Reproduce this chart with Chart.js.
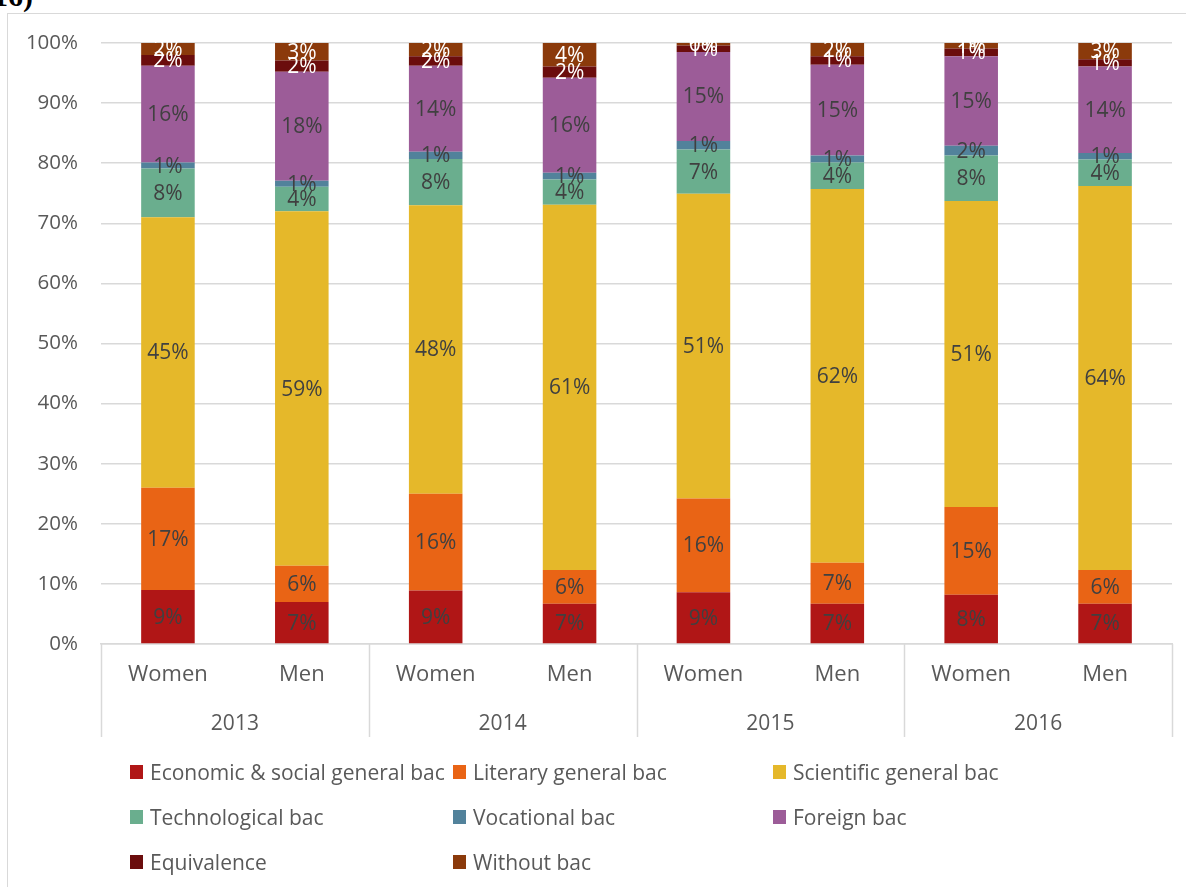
<!DOCTYPE html>
<html>
<head>
<meta charset="utf-8">
<script src="https://cdn.jsdelivr.net/npm/chart.js@4.4.1/dist/chart.umd.min.js"></script>
<style>
  html, body { margin: 0; padding: 0; background: #ffffff; }
  body { width: 1186px; height: 887px; position: relative; overflow: hidden; font-family: "Open Sans", sans-serif; }
  #frame { position: absolute; left: 7px; top: 13px; width: 1300px; height: 1000px; border-left: 1px solid #d9d9d9; border-top: 1px solid #d9d9d9; }
  #title { position: absolute; left: -7px; top: -19px; font-family: "Liberation Serif", serif; font-weight: bold; font-size: 30px; line-height: 30px; color: #000; }
  #chart { position: absolute; left: 0; top: 0; }
  #legend { position: absolute; left: 0; top: 0; }
  .lg { position: absolute; display: flex; align-items: center; font-size: 21px; color: #595959; white-space: nowrap; }
  .lg span.box { display: inline-block; width: 13px; height: 14px; margin-right: 7px; }
</style>
</head>
<body>
<div id="frame"></div>
<div id="title">16)</div>
<canvas id="chart" width="1186" height="887"></canvas>
<div id="legend"></div>
<script>
const categories = ['Women', 'Men', 'Women', 'Men', 'Women', 'Men', 'Women', 'Men'];
const years = ['2013', '2014', '2015', '2016'];
const yTicks = [0, 10, 20, 30, 40, 50, 60, 70, 80, 90, 100];

const econ          = [9.0, 7.0, 8.9, 6.7, 8.6, 6.7, 8.2, 6.7];
const literary      = [17.0, 6.0, 16.1, 5.6, 15.6, 6.8, 14.6, 5.6];
const scientific    = [45.0, 59.0, 48.0, 60.8, 50.7, 62.2, 50.9, 63.9];
const technological = [8.1, 4.1, 7.7, 4.2, 7.4, 4.4, 7.6, 4.4];
const vocational    = [1.0, 1.0, 1.2, 1.1, 1.4, 1.2, 1.6, 1.1];
const foreign       = [16.1, 18.1, 14.3, 15.8, 14.8, 15.1, 14.9, 14.4];
const equivalence   = [1.8, 1.9, 1.6, 1.9, 1.1, 1.4, 1.3, 1.2];
const withoutBac    = [2.0, 2.9, 2.2, 3.9, 0.4, 2.2, 0.9, 2.7];

const seriesNames = ['Economic & social general bac', 'Literary general bac', 'Scientific general bac',
  'Technological bac', 'Vocational bac', 'Foreign bac', 'Equivalence', 'Without bac'];
const seriesValues = [econ, literary, scientific, technological, vocational, foreign, equivalence, withoutBac];
const seriesColors = ['#B01616', '#E96415', '#E5B82A', '#6AAE8E', '#52829B', '#9C5C98', '#6B0D0D', '#8B3A0B'];
const labelColors = ['#404040', '#404040', '#404040', '#404040', '#404040', '#404040', '#ffffff', '#ffffff'];

const datasets = seriesNames.map((name, i) => ({
  label: name,
  data: seriesValues[i],
  backgroundColor: seriesColors[i],
  borderWidth: 0,
  categoryPercentage: 1.0,
  barPercentage: 0.4,
  labelColor: labelColors[i]
}));

const valueLabels = {
  id: 'valueLabels',
  afterDatasetsDraw(chart) {
    const ctx = chart.ctx;
    ctx.save();
    ctx.font = '21px "Open Sans"';
    ctx.textAlign = 'center';
    ctx.textBaseline = 'middle';
    chart.data.datasets.forEach((ds, di) => {
      const meta = chart.getDatasetMeta(di);
      meta.data.forEach((el, j) => {
        const p = el.getProps(['x', 'y', 'base'], true);
        ctx.fillStyle = ds.labelColor;
        ctx.fillText(Math.round(ds.data[j]) + '%', p.x, (p.y + p.base) / 2 + 1);
      });
    });
    ctx.restore();
  }
};

const groupSeparators = {
  id: 'groupSeparators',
  afterDraw(chart) {
    const xs = chart.scales.x;
    const x2 = chart.scales.x2;
    const ctx = chart.ctx;
    const n = categories.length;
    const positions = [xs.left];
    for (let k = 2; k < n; k += 2) {
      positions.push((xs.getPixelForValue(k - 1) + xs.getPixelForValue(k)) / 2);
    }
    positions.push(xs.right);
    ctx.save();
    ctx.strokeStyle = '#d9d9d9';
    ctx.lineWidth = 1.5;
    positions.forEach(px => {
      const x = Math.round(px) + 0.5;
      ctx.beginPath();
      ctx.moveTo(x, chart.chartArea.bottom);
      ctx.lineTo(x, x2.bottom - 3);
      ctx.stroke();
    });
    ctx.restore();
  }
};

new Chart(document.getElementById('chart'), {
  type: 'bar',
  data: { labels: categories, datasets },
  plugins: [valueLabels, groupSeparators],
  options: {
    responsive: false,
    animation: false,
    layout: { padding: { left: 0, right: 14, top: 43, bottom: 147 } },
    plugins: { legend: { display: false }, tooltip: { enabled: false } },
    scales: {
      x: {
        stacked: true,
        position: 'bottom',
        grid: { display: false, drawTicks: false },
        border: { display: true, color: '#d9d9d9', width: 1.5 },
        ticks: { color: '#595959', font: { family: 'Open Sans', size: 22 }, padding: 18, maxRotation: 0, autoSkip: false },
        afterFit: s => { s.height = 48; }
      },
      x2: {
        type: 'category',
        labels: years,
        position: 'bottom',
        offset: true,
        grid: { display: false, drawTicks: false },
        border: { display: false },
        ticks: { color: '#595959', font: { family: 'Open Sans', size: 21 }, padding: 19, maxRotation: 0 },
        afterFit: s => { s.height = 48; }
      },
      y: {
        stacked: true,
        min: 0,
        max: 100,
        afterBuildTicks: s => { s.ticks = yTicks.map(v => ({ value: v })); },
        grid: { color: '#d9d9d9', lineWidth: 1.5, drawTicks: false },
        border: { display: false },
        ticks: { color: '#595959', font: { family: 'Open Sans', size: 20.5 }, padding: 23, callback: v => v + '%' },
        afterFit: s => { s.width = 101; }
      }
    }
  }
});

// HTML legend built from the datasets (3-column grid)
const legend = document.getElementById('legend');
const colX = [130, 453, 773];
const rowY = [772, 817, 862];
seriesNames.forEach((name, i) => {
  const d = document.createElement('div');
  d.className = 'lg';
  d.style.left = colX[i % 3] + 'px';
  d.style.top = (rowY[Math.floor(i / 3)] - 14) + 'px';
  d.style.height = '28px';
  const b = document.createElement('span');
  b.className = 'box';
  b.style.background = seriesColors[i];
  d.appendChild(b);
  d.appendChild(document.createTextNode(name));
  legend.appendChild(d);
});
</script>
</body>
</html>
